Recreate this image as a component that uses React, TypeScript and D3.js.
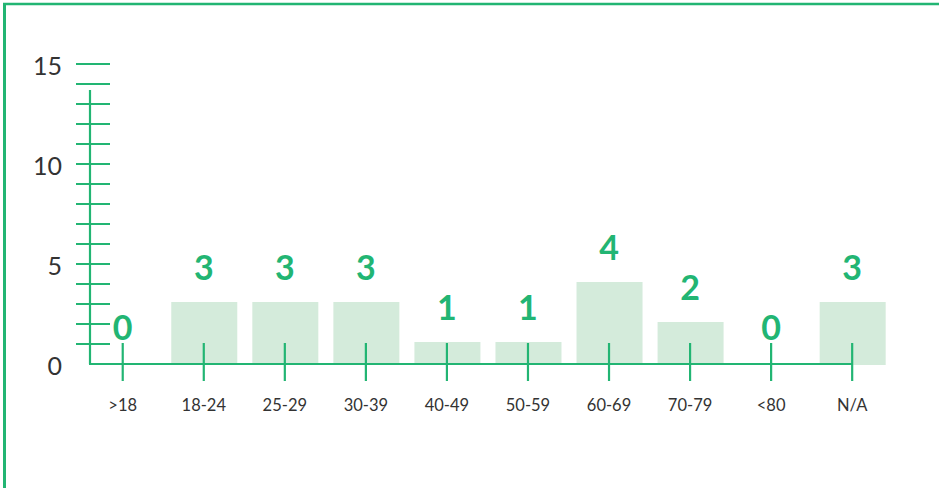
import React from "react";
import * as d3 from "d3";

const categories = [">18", "18-24", "25-29", "30-39", "40-49", "50-59", "60-69", "70-79", "<80", "N/A"];
const counts = [0, 3, 3, 3, 1, 1, 4, 2, 0, 3];
const yTickValues = d3.range(1, 16);
const yLabelValues = [0, 5, 10, 15];

const W = 939;
const H = 488;
const GREEN = "#22b573";
const BAR = "#d4ebdb";
const TEXT = "#333333";
const FONT = "Lato, 'Open Sans', sans-serif";

export default function App() {
  const x = d3.scaleBand<string>().domain(categories).range([82.2, 892.7]).paddingInner(0).paddingOuter(0);
  const y = d3.scaleLinear().domain([0, 15]).range([364, 64]);
  const cx = (c: string) => (x(c) as number) + x.bandwidth() / 2;
  const barW = 66;
  const last = cx(categories[categories.length - 1]);

  return (
    <svg width={W} height={H} style={{ position: "absolute", left: 0, top: 0, background: "#fff" }}>
      {/* frame */}
      <line x1={4.5} y1={3} x2={4.5} y2={H} stroke={GREEN} strokeWidth={3} />
      <line x1={3} y1={4} x2={W} y2={4} stroke={GREEN} strokeWidth={2.5} />

      {/* bars */}
      {categories.map((c, i) => (
        <rect key={c} x={cx(c) - barW / 2 + 0.5} y={y(counts[i]) - 2} width={barW} height={Math.max(0, y(0) - y(counts[i]) + 3)} fill={counts[i] > 0 ? BAR : "none"} />
      ))}

      {/* y axis */}
      <line x1={90} y1={90} x2={90} y2={y(0)} stroke={GREEN} strokeWidth={2.2} />
      {yTickValues.map((v) => (
        <line key={v} x1={76} x2={110} y1={y(v)} y2={y(v)} stroke={GREEN} strokeWidth={2.2} />
      ))}
      {yLabelValues.map((v) => (
        <text key={v} x={62} y={y(v) + 1} textAnchor="end" dominantBaseline="central" fontFamily={FONT} fontWeight={400} fontSize={25} fill={TEXT}>
          {v}
        </text>
      ))}

      {/* x axis */}
      <line x1={89} x2={last} y1={y(0)} y2={y(0)} stroke={GREEN} strokeWidth={2.2} />
      {categories.map((c) => (
        <line key={c} x1={cx(c)} x2={cx(c)} y1={343} y2={381} stroke={GREEN} strokeWidth={2.2} />
      ))}
      {categories.map((c) => (
        <text key={c} x={cx(c)} y={405} textAnchor="middle" dominantBaseline="central" fontFamily={FONT} fontSize={16.5} fill={TEXT}>
          {c}
        </text>
      ))}

      {/* value labels */}
      {categories.map((c, i) => (
        <text key={c} x={cx(c)} y={y(counts[i]) - 38} textAnchor="middle" dominantBaseline="central" fontFamily={FONT} fontWeight={700} fontSize={34} fill={GREEN}>
          {counts[i]}
        </text>
      ))}
    </svg>
  );
}
